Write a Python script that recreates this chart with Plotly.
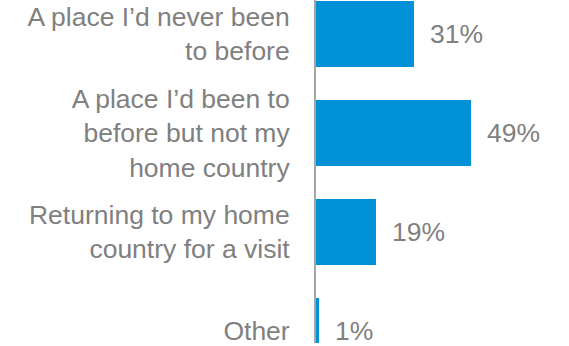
import plotly.graph_objects as go

# Survey answers and their shares (%)
categories = [
    "A place I’d never been<br>to before",
    "A place I’d been to<br>before but not my<br>home country",
    "Returning to my home<br>country for a visit",
    "Other",
]
shares = [31, 49, 19, 1]

BAR_COLOR = "#0091D6"
TEXT_COLOR = "#808080"
FONT = "Liberation Sans, Arial, sans-serif"

positions = list(range(len(categories)))

fig = go.Figure(
    go.Bar(
        x=shares,
        y=positions,
        orientation="h",
        width=0.67,
        marker=dict(color=BAR_COLOR, line=dict(width=0)),
        hoverinfo="skip",
    )
)

# Percentage labels to the right of each bar
for pos, val in zip(positions, shares):
    fig.add_annotation(
        x=val, y=pos, text=f"{val}%",
        xanchor="left", yanchor="middle", xshift=14,
        showarrow=False,
        font=dict(family=FONT, size=26.5, color=TEXT_COLOR),
    )

fig.update_layout(
    width=569, height=346,
    margin=dict(l=316, r=0, t=0, b=0),
    paper_bgcolor="white", plot_bgcolor="white",
    showlegend=False,
    bargap=0,
    xaxis=dict(
        range=[0, 80.0], visible=False, showgrid=False, zeroline=False,
    ),
    yaxis=dict(
        range=[3.12, -0.34],
        tickmode="array", tickvals=positions, ticktext=categories,
        showgrid=False, zeroline=False,
        showline=True, linecolor="#A6A6A6", linewidth=2,
        ticks="outside", ticklen=19, tickcolor="rgba(0,0,0,0)",
        ticklabeloverflow="allow",
        tickfont=dict(family=FONT, size=26.5, color=TEXT_COLOR),
    ),
)

fig.write_html("out.html")
